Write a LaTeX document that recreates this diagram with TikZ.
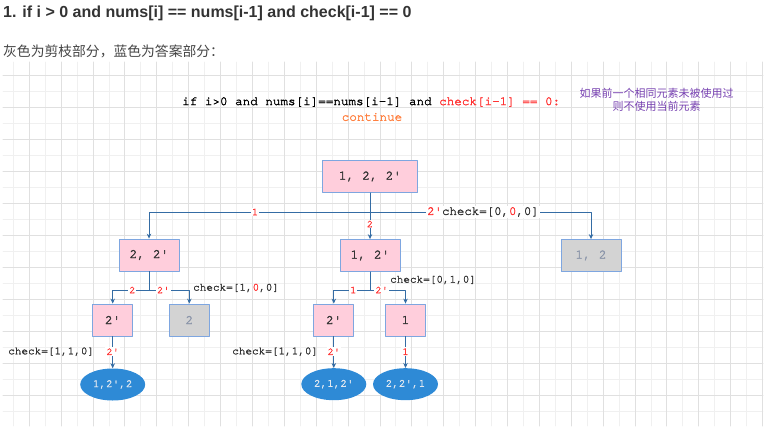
\documentclass[tikz,border=0pt]{standalone}
\usepackage{fontspec}
\setmainfont{Liberation Sans}
\setmonofont{texgyrecursor-regular.otf}[FakeBold=2]
\newfontfamily\cjk{Noto Sans CJK SC}
\usetikzlibrary{arrows.meta,shapes.geometric}
\definecolor{txtdark}{RGB}{51,51,51}
\definecolor{subgray}{RGB}{68,68,68}
\definecolor{gridminor}{RGB}{240,240,240}
\definecolor{gridmajor}{RGB}{224,224,224}
\definecolor{boxpink}{RGB}{255,206,220}
\definecolor{boxline}{RGB}{126,166,224}
\definecolor{cutgray}{RGB}{211,211,211}
\definecolor{cutfont}{RGB}{140,150,170}
\definecolor{ansblue}{RGB}{46,138,214}
\definecolor{anstext}{RGB}{225,232,240}
\definecolor{edgeblue}{RGB}{52,108,164}
\definecolor{hired}{RGB}{255,51,51}
\definecolor{orangec}{RGB}{255,128,64}
\definecolor{purp}{RGB}{118,64,176}
\begin{document}
\begin{tikzpicture}[x=1pt, y=-1pt, line join=round, line cap=round, >={Stealth[length=5pt,width=4.5pt]},
	box/.style={draw=boxline, line width=0.8pt, fill=boxpink, minimum width=60pt, minimum height=32pt, inner sep=0pt, text=txtdark, font=\ttfamily\fontsize{13}{13}\selectfont},
	cut/.style={box, fill=cutgray, text=cutfont},
	ans/.style={ellipse, fill=ansblue, minimum width=65pt, minimum height=32pt, inner sep=0pt, text=anstext, font=\ttfamily\fontsize{11}{11}\selectfont},
	edge/.style={->, draw=edgeblue, line width=0.8pt},
	lab/.style={fill=white, inner sep=1pt, text=hired, font=\ttfamily\fontsize{10.5}{10.5}\selectfont},
	chk/.style={inner sep=0pt, text=txtdark, font=\ttfamily\fontsize{11}{11}\selectfont}]
	\useasboundingbox (0,0) rectangle (768,439);
	% grid
	\foreach \i in {0,...,47} \draw[gridminor, line width=0.8pt] ({13.3+15.94*\i},62) -- ({13.3+15.94*\i},426);
	\foreach \j in {0,...,21} \draw[gridminor, line width=0.8pt] (3,{75.7+16*\j}) -- (763,{75.7+16*\j});
	\foreach \i in {1,3,...,47} \draw[gridmajor, line width=0.8pt] ({13.3+15.94*\i},62) -- ({13.3+15.94*\i},426);
	\foreach \j in {0,2,...,20} \draw[gridmajor, line width=0.8pt] (3,{75.7+16*\j}) -- (763,{75.7+16*\j});
	% texts
	\node[anchor=base west, inner sep=0pt, text=txtdark, font=\bfseries\fontsize{16}{16}\selectfont] (title) at (3,17.5) {1. if i > 0 and nums[i] == nums[i-1] and check[i-1] == 0};
	\node[anchor=base west, inner sep=0pt, text=subgray, font=\cjk\fontsize{13.8}{13.8}\selectfont] (sub) at (3,56.5) {灰色为剪枝部分，蓝色为答案部分：};
	\node[anchor=west, inner sep=0pt, text=black, font=\ttfamily\fontsize{12.6}{12.6}\selectfont] (cond) at (182,102) {if i>0 and nums[i]==nums[i-1] and \textcolor{hired}{check[i-1] == 0:}};
	\node[inner sep=0pt, text=orangec, font=\ttfamily\fontsize{12.6}{12.6}\selectfont] (cont) at (372,117) {continue};
	\node[align=center, inner sep=0pt, text=purp, font=\cjk\fontsize{11}{13.3}\selectfont] (note) at (656.7,100) {如果前一个相同元素未被使用过\\则不使用当前元素};
	% tree
	\node[box, minimum width=95pt] (root) at (370,176.5) {1, 2, 2'};
	\node[box] (n22) at (149,255) {2, 2'};
	\node[box] (n12) at (370,255.5) {1, 2'};
	\node[cut] (n12g) at (591,255.5) {1, 2};
	\node[box, minimum width=40pt] (n2a) at (112.7,320) {2'};
	\node[cut, minimum width=40pt] (n2g) at (189.3,320) {2};
	\node[box, minimum width=40pt] (n2b) at (333.8,320) {2'};
	\node[box, minimum width=40pt] (n1) at (405.5,320) {1};
	\node[ans] (r1) at (112.7,384.5) {1,2',2};
	\node[ans] (r2) at (333.8,384.2) {2,1,2'};
	\node[ans] (r3) at (405.5,384.2) {2,2',1};
	\coordinate (rj) at (370,212);
	\coordinate (lj) at (149,290);
	\coordinate (mj) at (370,290);
	\draw[edge] (root) -- (n12);
	\draw[edge] (rj) -| (n22);
	\draw[edge] (rj) -| (n12g);
	\draw[edge] (n22) -- (lj) -| (n2a);
	\draw[edge] (lj) -| (n2g);
	\draw[edge] (n12) -- (mj) -| (n2b);
	\draw[edge] (mj) -| (n1);
	\draw[edge] (n2a) -- (r1);
	\draw[edge] (n2b) -- (r2);
	\draw[edge] (n1) -- (r3);
	% labels
	\node[lab] (e1) at (255,212) {1};
	\node[lab] (e2) at (370,224) {2};
	\node[lab, anchor=west, text=txtdark, font=\ttfamily\fontsize{12.4}{12.4}\selectfont] (e3) at (426,212) {\textcolor{hired}{2'}check=[0,\textcolor{hired}{0},0]};
	\node[lab] (e4) at (132.3,290) {2};
	\node[lab] (e5) at (163.3,290) {2'};
	\node[chk, anchor=west] (c1) at (193,288) {check=[1,\textcolor{hired}{0},0]};
	\node[lab] (e6) at (353.3,290) {1};
	\node[lab] (e7) at (381.7,290) {2'};
	\node[chk, anchor=west] (c2) at (390,280) {check=[0,1,0]};
	\node[lab] (e8) at (112.7,351.7) {2'};
	\node[chk, anchor=east] (c3) at (94.3,351.7) {check=[1,1,0]};
	\node[lab] (e9) at (333.8,351.7) {2'};
	\node[chk, anchor=east] (c4) at (318.3,351.7) {check=[1,1,0]};
	\node[lab] (e10) at (405.5,351.7) {1};
\end{tikzpicture}
\end{document}
